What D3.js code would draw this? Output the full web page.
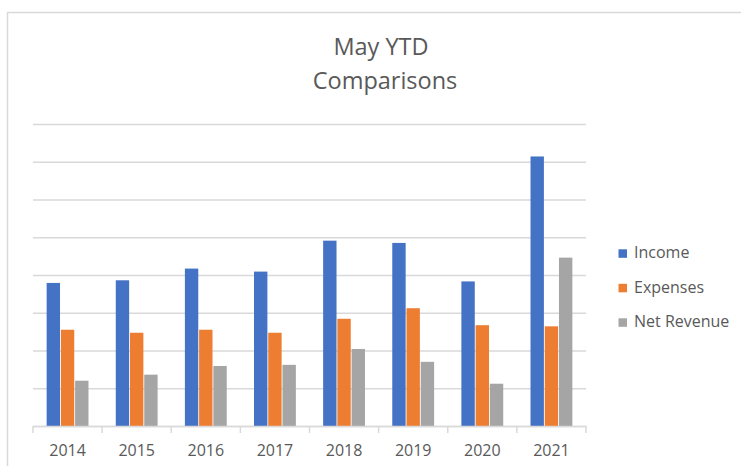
<!DOCTYPE html>
<html>
<head>
<meta charset="utf-8">
<script src="https://cdn.jsdelivr.net/npm/d3@7"></script>
<style>
  body { margin: 0; background: #fff; }
  text { font-family: "Open Sans", Lato, sans-serif; fill: #595959; }
</style>
</head>
<body>
<svg id="chart" width="741" height="466"></svg>
<script>
// data (units = gridline steps)
var years = ['2014', '2015', '2016', '2017', '2018', '2019', '2020', '2021'];
var seriesNames = ['Income', 'Expenses', 'Net Revenue'];
var income = [3.79, 3.86, 4.17, 4.09, 4.91, 4.85, 3.83, 7.14];
var expenses = [2.55, 2.47, 2.55, 2.47, 2.84, 3.12, 2.67, 2.64];
var netRevenue = [1.20, 1.36, 1.59, 1.62, 2.04, 1.70, 1.12, 4.46];
var colors = ['#4472C4', '#ED7D31', '#A5A5A5'];

var rows = years.map(function(y, i) {
  return {year: y, values: [income[i], expenses[i], netRevenue[i]]};
});

var svg = d3.select('#chart');
var plot = {left: 33, right: 586, top: 124, bottom: 426};

// outer frame
svg.append('rect')
  .attr('x', 7.5).attr('y', 12.5)
  .attr('width', 740).attr('height', 460)
  .attr('fill', 'none')
  .attr('stroke', '#d9d9d9')
  .attr('stroke-width', 1.5);

// title
var title = svg.append('text')
  .attr('text-anchor', 'middle')
  .style('font-size', '23.5px');
title.append('tspan').attr('x', 381).attr('y', 55).text('May YTD');
title.append('tspan').attr('x', 385).attr('y', 89).text('Comparisons');

var x0 = d3.scaleBand().domain(years).range([plot.left, plot.right])
  .paddingInner(0.37).paddingOuter(0.185);
var x1 = d3.scaleBand().domain(seriesNames).range([0, x0.bandwidth()]).padding(0.06);
var y = d3.scaleLinear().domain([0, 8]).range([plot.bottom, plot.top]);

// gridlines
svg.append('g')
  .attr('transform', 'translate(' + plot.left + ',0)')
  .call(d3.axisLeft(y).ticks(8).tickSize(-(plot.right - plot.left)).tickFormat(''))
  .call(function(g) { g.select('.domain').remove(); })
  .selectAll('line')
  .attr('stroke', '#d9d9d9')
  .attr('stroke-width', 1.5);

// bars
var groups = svg.append('g').selectAll('g')
  .data(rows)
  .enter().append('g')
  .attr('transform', function(d) { return 'translate(' + x0(d.year) + ',0)'; });

groups.selectAll('rect')
  .data(function(d) { return d.values.map(function(v, i) { return {name: seriesNames[i], value: v, i: i}; }); })
  .enter().append('rect')
  .attr('x', function(d) { return x1(d.name); })
  .attr('y', function(d) { return y(d.value); })
  .attr('width', x1.bandwidth())
  .attr('height', function(d) { return y(0) - y(d.value); })
  .attr('fill', function(d) { return colors[d.i]; });

// x axis with category boundary ticks
var step = x0.step();
var xAxis = svg.append('g')
  .attr('transform', 'translate(0,' + plot.bottom + ')')
  .call(d3.axisBottom(x0).tickSize(0).tickPadding(19));
xAxis.select('.domain').attr('stroke', '#d9d9d9').attr('stroke-width', 1.5);
xAxis.selectAll('text').style('font-size', '16px').style('font-family', '"Open Sans", sans-serif').attr('fill', '#595959');
xAxis.selectAll('.bound')
  .data(d3.range(years.length + 1))
  .enter().append('line')
  .attr('x1', function(i) { return plot.left + i * step; })
  .attr('x2', function(i) { return plot.left + i * step; })
  .attr('y1', 0).attr('y2', 7)
  .attr('stroke', '#d9d9d9')
  .attr('stroke-width', 1.5);

// legend
var legend = svg.append('g').selectAll('g')
  .data(seriesNames)
  .enter().append('g')
  .attr('transform', function(d, i) { return 'translate(618.5,' + (249.3 + i * 34.5) + ')'; });
legend.append('rect').attr('width', 8.5).attr('height', 8.5)
  .attr('fill', function(d, i) { return colors[i]; });
legend.append('text').attr('x', 15.5).attr('y', 9)
  .style('font-size', '16px')
  .text(function(d) { return d; });
</script>
</body>
</html>
